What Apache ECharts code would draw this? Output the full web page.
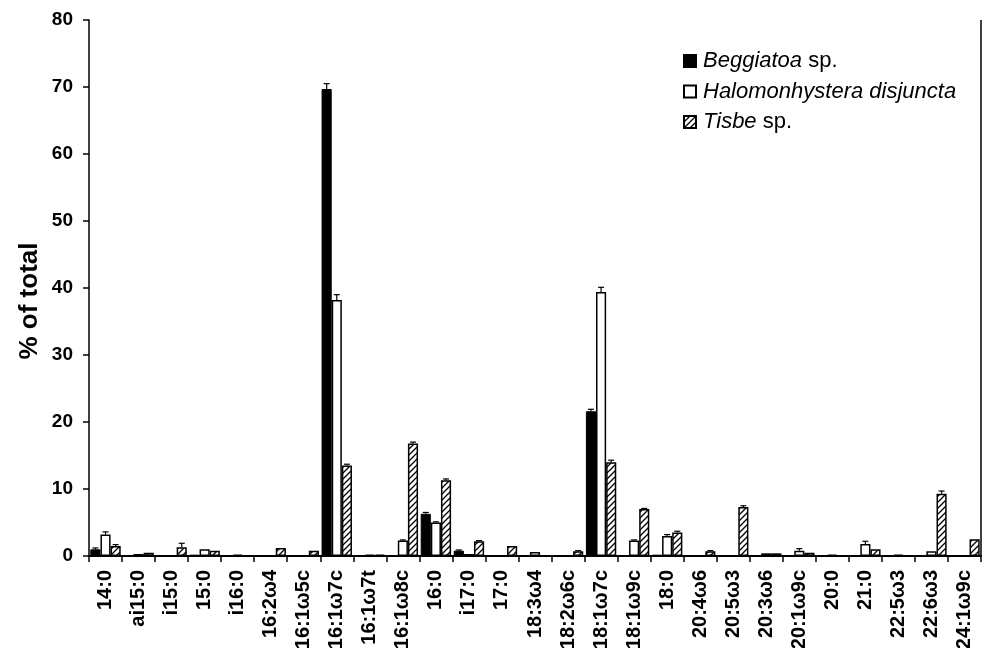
<!DOCTYPE html>
<html>
<head>
<meta charset="utf-8">
<script src="https://cdn.jsdelivr.net/npm/echarts@6/dist/echarts.min.js"></script>
<style>html,body{margin:0;padding:0;background:#fff}#c{width:984px;height:648px}</style>
</head>
<body>
<div id="c"></div>
<script>
var categories = ['14:0','ai15:0','i15:0','15:0','i16:0','16:2ω4','16:1ω5c','16:1ω7c','16:1ω7t','16:1ω8c','16:0','i17:0','17:0','18:3ω4','18:2ω6c','18:1ω7c','18:1ω9c','18:0','20:4ω6','20:5ω3','20:3ω6','20:1ω9c','20:0','21:0','22:5ω3','22:6ω3','24:1ω9c'];
var beggiatoa = [1.0,0.1,0,0.2,0,0,0,69.7,0,0,6.3,0.8,0,0,0,21.6,0,0.2,0,0,0,0,0,0,0,0,0];
var halomon   = [3.2,0.3,0.1,1.0,0.2,0,0,38.2,0.2,2.3,5.0,0.3,0,0.6,0,39.4,2.3,3.0,0,0,0.4,0.8,0.2,1.8,0.2,0.7,0];
var tisbe     = [1.5,0.5,1.3,0.8,0.1,1.2,0.8,13.5,0.2,16.8,11.3,2.2,1.5,0,0.7,14.0,7.0,3.5,0.7,7.3,0.4,0.5,0.1,1.0,0.1,9.3,2.5];
var errB = [0.2,0,0,0,0,0,0,0.8,0,0,0.2,0.1,0,0,0,0.3,0,0,0,0,0,0,0,0,0,0,0];
var errH = [0.4,0,0,0,0,0,0,0.8,0,0.1,0.1,0,0,0,0,0.7,0.1,0.2,0,0,0,0.3,0,0.4,0,0,0];
var errT = [0.2,0,0.6,0,0,0,0,0.2,0,0.2,0.2,0.1,0,0,0.1,0.3,0.1,0.2,0.1,0.2,0,0,0,0,0,0.4,0];
var seriesNames = ['Beggiatoa sp.','Halomonhystera disjuncta','Tisbe sp.'];
var yAxisTitle = '% of total';
var yMin = 0, yMax = 80, yStep = 10;

var FONT = '"Liberation Sans", Arial, sans-serif';
var GAP = 0.08;

function makeHatch() {
  var s = 6;
  var cv = document.createElement('canvas');
  cv.width = s; cv.height = s;
  var ctx = cv.getContext('2d');
  ctx.fillStyle = '#fff'; ctx.fillRect(0,0,s,s);
  ctx.strokeStyle = '#000'; ctx.lineWidth = 1.3;
  ctx.beginPath();
  ctx.moveTo(-1, s+1); ctx.lineTo(s+1, -1);
  ctx.moveTo(-1, 1); ctx.lineTo(1, -1);
  ctx.moveTo(s-1, s+1); ctx.lineTo(s+1, s-1);
  ctx.stroke();
  return cv;
}
var hatch = {image: makeHatch(), repeat: 'repeat'};

function errSeries(vals, errs, idx) {
  var data = [];
  for (var i = 0; i < vals.length; i++) if (errs[i] > 0) data.push([i, vals[i], errs[i]]);
  return {
    type: 'custom', silent: true, z: 3,
    data: data,
    renderItem: function (params, api) {
      var ci = api.value(0), v = api.value(1), e = api.value(2);
      var band = api.size([1, 0])[0];
      var bw = band * (1 - GAP) / 3;
      var p0 = api.coord([ci, v]);
      var p1 = api.coord([ci, v + e]);
      var x = p0[0] + (idx - 1) * bw;
      return {type: 'group', children: [
        {type: 'line', shape: {x1: x, y1: p0[1], x2: x, y2: p1[1]}, style: {stroke: '#000', lineWidth: 1.2}},
        {type: 'line', shape: {x1: x - 3, y1: p1[1], x2: x + 3, y2: p1[1]}, style: {stroke: '#000', lineWidth: 1.2}}
      ]};
    }
  };
}

var chart = echarts.init(document.getElementById('c'), null, {renderer: 'canvas'});
var option = {
  backgroundColor: '#fff',
  animation: false,
  grid: {left: 89, right: 3, top: 20, bottom: 92, containLabel: false, outerBoundsMode: 'none'},
  legend: {
    orient: 'vertical', left: 678, top: 45, itemWidth: 12, itemHeight: 12, itemGap: 8.5,
    icon: 'rect',
    data: seriesNames,
    textStyle: {fontFamily: FONT, fontSize: 22, color: '#000', padding: [0, 0, 0, 2],
      rich: {i: {fontStyle: 'italic', fontFamily: FONT, fontSize: 22, color: '#000'},
             n: {fontFamily: FONT, fontSize: 22, color: '#000'}}},
    formatter: function (name) {
      if (name === 'Beggiatoa sp.') return '{i|Beggiatoa}{n| sp.}';
      if (name === 'Tisbe sp.') return '{i|Tisbe}{n| sp.}';
      return '{i|' + name + '}';
    }
  },
  xAxis: {
    type: 'category', data: categories,
    axisLine: {lineStyle: {color: '#000', width: 2}},
    axisTick: {show: true, interval: 0, length: 6, lineStyle: {color: '#000', width: 1.5}},
    axisLabel: {interval: 0, rotate: 90, margin: 14, color: '#000', fontFamily: FONT, fontSize: 20, fontWeight: 'bold'}
  },
  yAxis: {
    type: 'value', min: yMin, max: yMax, interval: yStep,
    axisLine: {show: true, lineStyle: {color: '#000', width: 1.5}},
    axisTick: {show: true, length: 6, lineStyle: {color: '#000', width: 1.5}},
    splitLine: {show: false},
    axisLabel: {margin: 16, color: '#000', fontFamily: FONT, fontSize: 19, fontWeight: 'bold'}
  },
  series: [
    {name: seriesNames[0], type: 'bar', data: beggiatoa, barGap: '0%', barCategoryGap: (GAP * 100) + '%',
     itemStyle: {color: '#000', borderColor: '#000', borderWidth: 1}},
    {name: seriesNames[1], type: 'bar', data: halomon,
     itemStyle: {color: '#fff', borderColor: '#000', borderWidth: 1.5}},
    {name: seriesNames[2], type: 'bar', data: tisbe,
     itemStyle: {color: hatch, borderColor: '#000', borderWidth: 1.5}},
    errSeries(beggiatoa, errB, 0),
    errSeries(halomon, errH, 1),
    errSeries(tisbe, errT, 2)
  ],
  graphic: [
    {type: 'line', shape: {x1: 981, y1: 20, x2: 981, y2: 556}, style: {stroke: '#000', lineWidth: 1.5}},
    {type: 'text', x: 30, y: 301, rotation: Math.PI / 2,
     style: {text: yAxisTitle, fontFamily: FONT, fontSize: 26, fontWeight: 'bold', fill: '#000', align: 'center', verticalAlign: 'middle'}}
  ]
};
chart.setOption(option);
</script>
</body>
</html>
